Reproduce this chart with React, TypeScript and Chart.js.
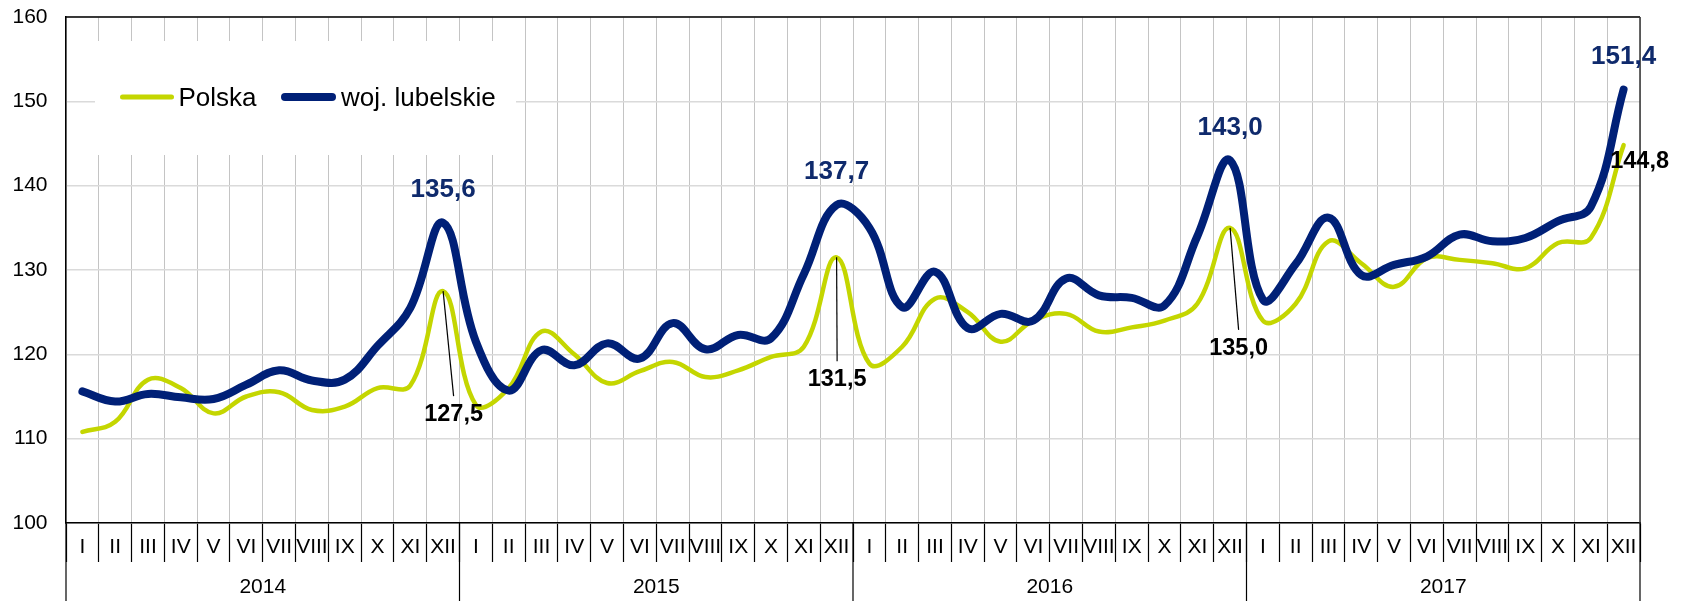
import React, { useEffect, useRef } from "react";
import { Chart, registerables } from "chart.js";

Chart.register(...registerables);

const FONT = "'Liberation Sans', Arial, Helvetica, sans-serif";

const MONTHS = ["I", "II", "III", "IV", "V", "VI", "VII", "VIII", "IX", "X", "XI", "XII"];
const YEARS = ["2014", "2015", "2016", "2017"];
const CATEGORIES = YEARS.flatMap(() => MONTHS);

const Y_MIN = 100;
const Y_MAX = 160;
const Y_STEP = 10;

const SERIES_NAMES = ["Polska", "woj. lubelskie"];

// Polska, by year
const POLSKA_2014 = [110.8, 112.0, 117.0, 116.0, 113.0, 115.0, 115.5, 113.4, 113.8, 116.0, 116.3, 127.5];
const POLSKA_2015 = [114.0, 116.0, 122.7, 120.0, 116.6, 118.0, 119.1, 117.3, 118.1, 119.7, 120.9, 131.5];
const POLSKA_2016 = [118.9, 120.9, 126.6, 125.0, 121.5, 124.0, 124.8, 122.7, 123.2, 124.0, 126.0, 135.0];
const POLSKA_2017 = [124.0, 126.0, 133.4, 130.8, 128.0, 131.4, 131.2, 130.8, 130.2, 133.2, 133.8, 144.8];

// woj. lubelskie, by year
const LUBELSKIE_2014 = [115.6, 114.4, 115.3, 114.9, 114.7, 116.4, 118.1, 116.9, 117.0, 121.0, 125.5, 135.6];
const LUBELSKIE_2015 = [121.5, 115.7, 120.5, 118.7, 121.3, 119.5, 123.7, 120.6, 122.3, 121.9, 129.5, 137.7];
const LUBELSKIE_2016 = [135.0, 125.6, 129.8, 123.1, 124.8, 124.0, 129.0, 127.0, 126.7, 125.8, 134.0, 143.0];
const LUBELSKIE_2017 = [126.5, 130.7, 136.2, 129.4, 130.6, 131.6, 134.2, 133.4, 133.8, 135.8, 137.5, 151.4];

const POLSKA = [...POLSKA_2014, ...POLSKA_2015, ...POLSKA_2016, ...POLSKA_2017];
const LUBELSKIE = [...LUBELSKIE_2014, ...LUBELSKIE_2015, ...LUBELSKIE_2016, ...LUBELSKIE_2017];

// Annotated points: [series index, data index]
const LABELED_BLUE = [11, 23, 35, 47];
const LABELED_GREEN_LEADER = [11, 23, 35];
const LABELED_GREEN_PLAIN = [47];

const COLORS = {
  green: "#c4d600",
  blue: "#002077",
  blueText: "#0f2a6c",
  black: "#000000",
  gridV: "#c4c4c4",
  gridH: "#dadada",
};

// style: label offsets (px) relative to the point
const BLUE_LABEL_DY = -33;
const LEADER_STYLE = [
  { dx: 10.5, lineDy: 105, textDy: 123 },
  { dx: 0.5, lineDy: 104, textDy: 122 },
  { dx: 8.5, lineDy: 102, textDy: 121 },
];
const PLAIN_GREEN_OFFSET = { dx: 16, dy: 16 };

const LEGEND_BOX = { x: 95, y: 41, w: 421, h: 114 };
const LEGEND_ITEMS = [
  { x0: 120, x1: 174, tx: 178.5, lw: 5 },
  { x0: 281, x1: 336, tx: 341, lw: 8 },
];
const LEGEND_Y = 97;

const fmt = (v: number) => v.toFixed(1).replace(".", ",");

const decorPlugin = {
  id: "decor",
  beforeDatasetsDraw(chart: any) {
    const ctx = chart.ctx;
    ctx.save();
    ctx.fillStyle = "#ffffff";
    ctx.fillRect(LEGEND_BOX.x, LEGEND_BOX.y, LEGEND_BOX.w, LEGEND_BOX.h);
    chart.data.datasets.forEach((ds: any, i: number) => {
      const it = LEGEND_ITEMS[i];
      ctx.beginPath();
      ctx.strokeStyle = ds.borderColor;
      ctx.lineWidth = it.lw;
      ctx.lineCap = "round";
      ctx.moveTo(it.x0 + it.lw / 2, LEGEND_Y);
      ctx.lineTo(it.x1 - it.lw / 2, LEGEND_Y);
      ctx.stroke();
      ctx.fillStyle = "#000";
      ctx.font = `26px ${FONT}`;
      ctx.textBaseline = "alphabetic";
      ctx.textAlign = "left";
      ctx.fillText(ds.label, it.tx, LEGEND_Y + 9.3);
    });
    ctx.restore();
  },
  afterDatasetsDraw(chart: any) {
    const ctx = chart.ctx;
    const { left, right, top, bottom } = chart.chartArea;
    ctx.save();
    // frame top & right
    ctx.strokeStyle = "#000";
    ctx.lineWidth = 1.5;
    ctx.beginPath();
    ctx.moveTo(left, top);
    ctx.lineTo(right, top);
    ctx.stroke();
    ctx.beginPath();
    ctx.strokeStyle = "#333";
    ctx.moveTo(right, top);
    ctx.lineTo(right, bottom);
    ctx.stroke();

    const xs = chart.scales.x;
    const ys = chart.scales.y;
    const px = (i: number) => xs.getPixelForValue(i);
    const py = (v: number) => ys.getPixelForValue(v);

    // blue labels above peaks
    ctx.font = `bold 26px ${FONT}`;
    ctx.fillStyle = COLORS.blueText;
    ctx.textAlign = "center";
    ctx.textBaseline = "middle";
    LABELED_BLUE.forEach((i) => {
      const v = LUBELSKIE[i];
      ctx.fillText(fmt(v), px(i), py(v) + BLUE_LABEL_DY);
    });

    // green labels with leader lines
    ctx.font = `bold 23.5px ${FONT}`;
    ctx.fillStyle = COLORS.black;
    LABELED_GREEN_LEADER.forEach((i, k) => {
      const v = POLSKA[i];
      const st = LEADER_STYLE[k];
      const x = px(i);
      const y = py(v);
      ctx.beginPath();
      ctx.strokeStyle = "#000";
      ctx.lineWidth = 1.2;
      ctx.moveTo(x, y);
      ctx.lineTo(x + st.dx, y + st.lineDy);
      ctx.stroke();
      ctx.fillText(fmt(v), x + st.dx, y + st.textDy);
    });
    LABELED_GREEN_PLAIN.forEach((i) => {
      const v = POLSKA[i];
      ctx.fillText(fmt(v), px(i) + PLAIN_GREEN_OFFSET.dx, py(v) + PLAIN_GREEN_OFFSET.dy);
    });
    ctx.restore();
  },
  afterDraw(chart: any) {
    const ctx = chart.ctx;
    const xs = chart.scales.x;
    const half = (xs.getPixelForValue(1) - xs.getPixelForValue(0)) / 2;
    const y0 = xs.top;
    const y1 = chart.height;
    ctx.save();
    ctx.strokeStyle = "#000";
    ctx.lineWidth = 1.2;
    for (let j = 0; j <= YEARS.length; j++) {
      const idx = j * MONTHS.length;
      const x =
        j < YEARS.length ? xs.getPixelForValue(idx) - half : xs.getPixelForValue(idx - 1) + half;
      ctx.beginPath();
      ctx.moveTo(x, y0);
      ctx.lineTo(x, y1);
      ctx.stroke();
    }
    ctx.fillStyle = "#000";
    ctx.font = `21px ${FONT}`;
    ctx.textAlign = "center";
    ctx.textBaseline = "middle";
    YEARS.forEach((yr, j) => {
      const a = xs.getPixelForValue(j * 12) - half;
      const b = xs.getPixelForValue(j * 12 + 11) + half;
      ctx.fillText(yr, (a + b) / 2, y0 + 64);
    });
    ctx.restore();
  },
};

export default function App() {
  const ref = useRef<HTMLCanvasElement | null>(null);

  useEffect(() => {
    if (!ref.current) return;
    const chart = new Chart(ref.current, {
      type: "line",
      data: {
        labels: CATEGORIES,
        datasets: [
          {
            label: SERIES_NAMES[0],
            data: POLSKA,
            borderColor: COLORS.green,
            backgroundColor: COLORS.green,
            borderWidth: 4.5,
            pointRadius: 0,
            tension: 0.4,
            borderCapStyle: "round",
            borderJoinStyle: "round",
            order: 1,
          },
          {
            label: SERIES_NAMES[1],
            data: LUBELSKIE,
            borderColor: COLORS.blue,
            backgroundColor: COLORS.blue,
            borderWidth: 8,
            pointRadius: 0,
            tension: 0.4,
            borderCapStyle: "round",
            borderJoinStyle: "round",
            order: 0,
          },
        ],
      },
      options: {
        animation: false,
        responsive: true,
        maintainAspectRatio: false,
        layout: { padding: { top: 17, right: 45, left: 0, bottom: 0 } },
        plugins: {
          legend: { display: false },
          tooltip: { enabled: false },
        },
        scales: {
          x: {
            type: "category",
            offset: true,
            grid: {
              offset: true,
              color: COLORS.gridV,
              lineWidth: 1,
              tickColor: "#000",
              tickLength: 39,
              tickWidth: 1.2,
            },
            border: { display: true, color: "#000", width: 1.5 },
            ticks: {
              color: "#000",
              font: { family: FONT, size: 21 },
              padding: -27,
              maxRotation: 0,
              minRotation: 0,
              autoSkip: false,
            },
            afterFit: (s: any) => {
              s.height = 78;
              s.paddingLeft = 0;
              s.paddingRight = 0;
            },
          },
          y: {
            min: Y_MIN,
            max: Y_MAX,
            grid: {
              color: COLORS.gridH,
              lineWidth: 1.5,
              drawTicks: false,
            },
            border: { display: true, color: "#000", width: 1.5 },
            ticks: {
              stepSize: Y_STEP,
              color: "#000",
              font: { family: FONT, size: 21 },
              padding: 18.5,
            },
            afterFit: (s: any) => {
              s.width = 66;
              s.paddingTop = 0;
              s.paddingBottom = 0;
            },
          },
        },
      },
      plugins: [decorPlugin],
    });
    return () => chart.destroy();
  }, []);

  return (
    <div style={{ position: "fixed", left: 0, top: 0, width: 1685, height: 601, background: "#fff" }}>
      <canvas ref={ref} />
    </div>
  );
}
